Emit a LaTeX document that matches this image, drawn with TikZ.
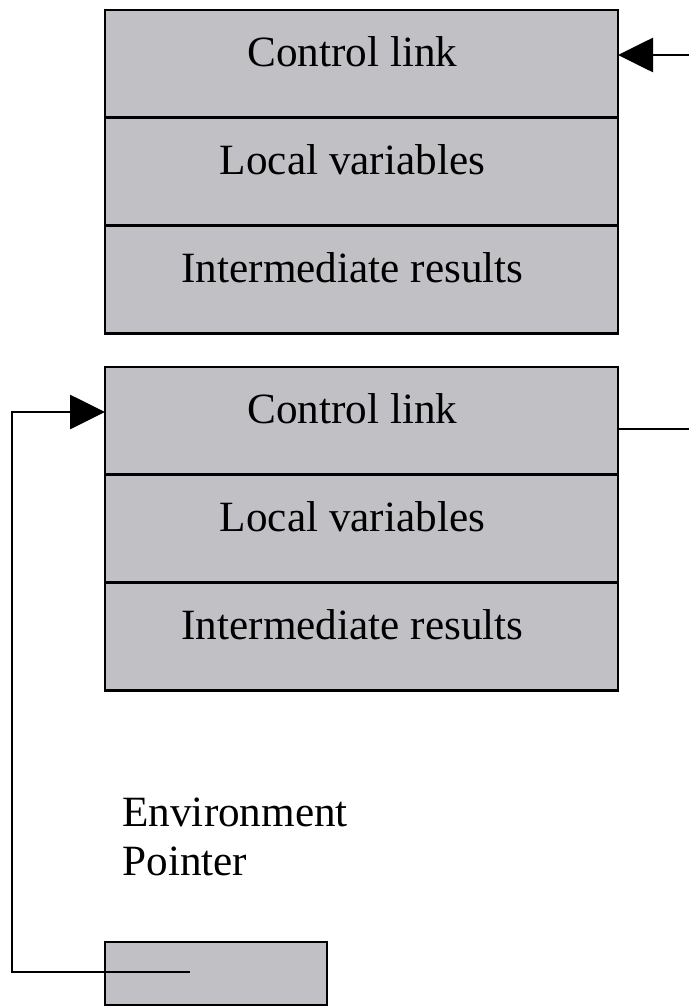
\documentclass[tikz,border=0pt]{standalone}
\usepackage{fontspec}
\setmainfont{Liberation Serif}
\usetikzlibrary{positioning,arrows.meta}
\definecolor{framegray}{RGB}{193,192,197}
\tikzset{
  row/.style={draw, fill=framegray, line width=1.4pt, outer sep=0pt,
    minimum width=256.5pt, minimum height=53.9pt,
    text height=13pt, text depth=10pt,
    execute at end node=\hspace{9pt},
    font=\fontsize{21.6pt}{24pt}\selectfont},
  link/.style={line width=1.4pt, -{Triangle[length=17.5pt,width=17pt]}}
}
\begin{document}
\begin{tikzpicture}[x=0.5pt, y=-0.5pt]
				\useasboundingbox (0,0) rectangle (689,1007);
				
				% Oberer Rahmen
				\node[row] (cl1) at (361.5,63.9) {Control link};
				\node[row, below=0pt of cl1] (lv1) {Local variables};
				\node[row, below=0pt of lv1] (ir1) {Intermediate results};
				
				% Unterer Rahmen
				\node[row] (cl2) at (361.5,420.9) {Control link};
				\node[row, below=0pt of cl2] (lv2) {Local variables};
				\node[row, below=0pt of lv2] (ir2) {Intermediate results};
				
				% Umgebungszeiger
				\node[anchor=west, align=left, inner sep=0pt,
				  font=\fontsize{21.6pt}{24.5pt}\selectfont] (env) at (122,837) {Environment\\Pointer};
				\node[draw, fill=framegray, line width=1.4pt, minimum width=111pt,
				  minimum height=31.5pt] (ep) at (216,973.5) {};
				
				% Verweise
				\coordinate (in1) at (689,55);
				\coordinate (out2) at (689,429);
				\coordinate (ptr) at (190,972);
				\coordinate (turn) at (12,412);
				\draw[link] (in1) -- (in1 -| cl1.east);
				\draw[line width=1.4pt] (out2 -| cl2.east) -- (out2);
				\draw[link] (ptr) -| (turn) -- (turn -| cl2.west);
			\end{tikzpicture}
\end{document}
